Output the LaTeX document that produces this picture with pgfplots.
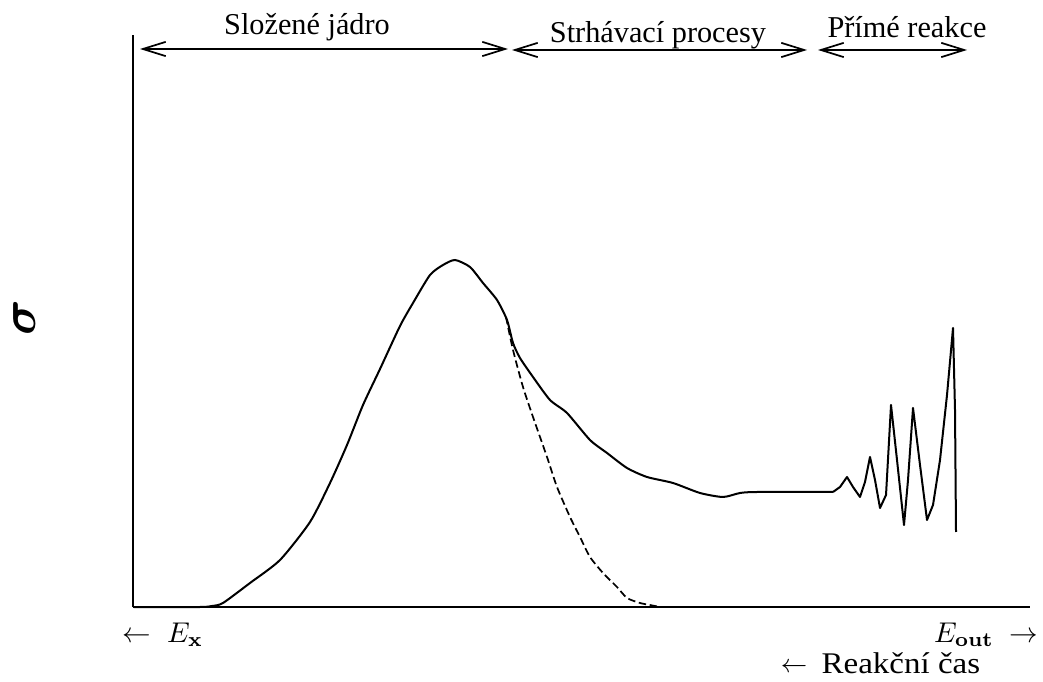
\documentclass[border=0pt]{standalone}
\usepackage{amsmath}
\usepackage[no-math]{fontspec}
\setmainfont{Liberation Serif}
\usepackage{pgfplots}
\usepackage{pgfplotstable}
\pgfplotsset{compat=1.18}
\usetikzlibrary{arrows.meta}

% main curve, x and y in reference pixels (y measured up from the baseline)
\pgfplotstableread{
x y
133 0
200 0
212 1
223 4
250 24
280 47
310 85
330 124
347 162
363 202
380 238
400 281
413 304
430 332
443 342
455 347
470 340
483 324
497 307
507 287
513 264
520 249
533 230
550 207
567 194
590 167
607 154
627 139
647 130
673 124
700 114
723 110
740 114
757 115
833 115
}\sigmacurve

% resonance peaks at the high-energy end
\pgfplotstableread{
x y
833 115
840 120
847 130
853 120
860 110
865 125
870 150
875 127
880 99
886 112
891 202
897 147
904 82
908 127
913 199
920 142
927 87
933 102
940 147
947 212
953 279
955 197
956 75
}\peaks

% dashed compound-nucleus part
\pgfplotstableread{
x y
506 290
513 257
523 220
533 190
547 150
557 120
570 90
580 70
590 50
603 34
617 20
627 9
640 4
650 2
660 0
}\compound

\begin{document}
\begin{tikzpicture}
\begin{axis}[
  scale only axis,
  width=897*0.35pt, height=572*0.35pt,
  xmin=133, xmax=1030, ymin=0, ymax=572,
  axis lines=left,
  axis line style={-, line width=0.8pt},
  ticks=none,
  clip=false,
]
\addplot[black, line width=0.7pt, smooth, tension=0.4] table {\sigmacurve};
\addplot[black, line width=0.7pt, line join=round] table {\peaks};
\addplot[black, line width=0.6pt, smooth, tension=0.4, dash pattern=on 2.6pt off 1.3pt] table {\compound};

\begin{scope}[line width=0.6pt, {Straight Barb[length=8pt,width=5pt]}-{Straight Barb[length=8pt,width=5pt]}]
\draw (axis cs:140,558) -- (axis cs:508,558);
\draw (axis cs:512,557) -- (axis cs:807,557);
\draw (axis cs:818,557) -- (axis cs:967,557);
\end{scope}

\node[font=\fontsize{10.6}{12}\selectfont] at (axis cs:307,580) {Složené jádro};
\node[font=\fontsize{10.6}{12}\selectfont] at (axis cs:658,572) {Strhávací procesy};
\node[font=\fontsize{10.6}{12}\selectfont] at (axis cs:907,580) {Přímé reakce};

\node[rotate=90, font=\fontsize{18}{20}\selectfont] at (axis cs:25,289) {$\boldsymbol{\sigma}$};

\node[anchor=base west, inner sep=0pt, font=\fontsize{10}{12}\selectfont] at (axis cs:122,-35) {$\leftarrow\;E_{\mathbf{x}}$};
\node[anchor=base east, inner sep=0pt, font=\fontsize{10}{12}\selectfont] at (axis cs:1039,-35) {$E_{\mathbf{out}}\;\rightarrow$};
\node[anchor=base, inner sep=0pt, font=\fontsize{9}{11}\selectfont] at (axis cs:794,-65) {$\leftarrow$};
\node[anchor=base west, inner sep=0pt, xscale=1.1, font=\fontsize{10.5}{12}\selectfont] at (axis cs:821,-67) {Reakční čas};

\coordinate (BL) at (axis cs:0,-75);
\coordinate (TR) at (axis cs:1043,607);
\end{axis}
\pgfresetboundingbox
\path[use as bounding box] (BL) rectangle (TR);
\end{tikzpicture}
\end{document}
